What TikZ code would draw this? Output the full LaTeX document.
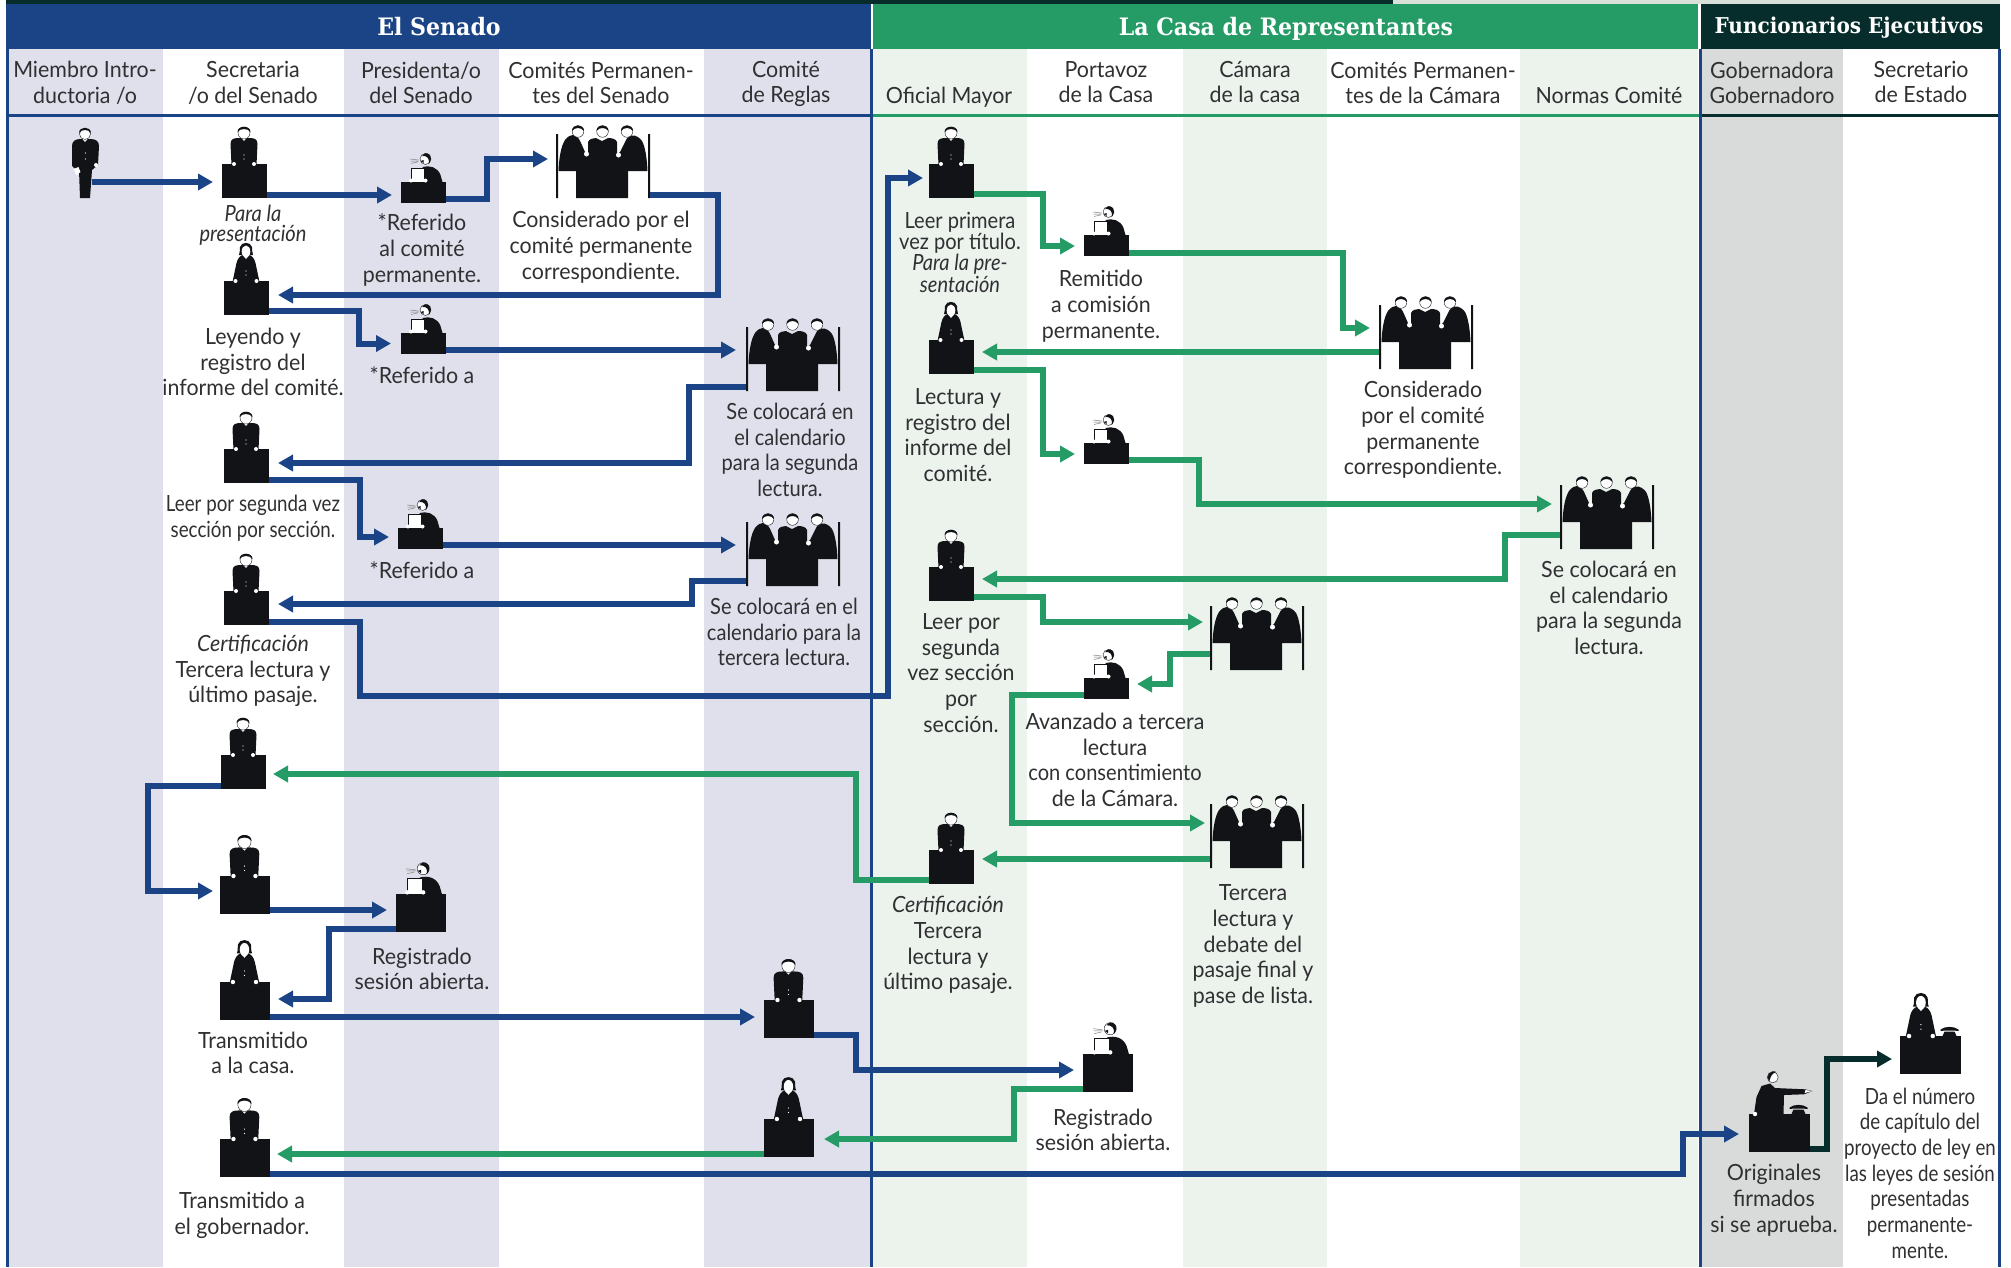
\documentclass[tikz,border=0pt]{standalone}
\usepackage{fontspec}
\setmainfont[FakeStretch=0.96]{Lato}
\newfontfamily\titlefont[FakeStretch=0.92]{DejaVu Serif}
\newfontfamily\tightfont[FakeStretch=0.9]{Lato}
\newfontfamily\narrowfont[FakeStretch=0.84]{Lato}
\usetikzlibrary{arrows.meta}
\definecolor{senblue}{HTML}{1B4486}
\definecolor{hougreen}{HTML}{259B66}
\definecolor{exedark}{HTML}{062D2B}
\definecolor{senband}{HTML}{E0E0EC}
\definecolor{houband}{HTML}{ECF3ED}
\definecolor{exeband}{HTML}{D9DBDA}
\definecolor{figblack}{HTML}{111317}
\definecolor{txtgray}{HTML}{303033}
\tikzset{
	lbl/.style={align=center,text=txtgray,inner sep=0pt,font=\fontsize{22.3}{25.7}\selectfont},
	tight/.style={font=\tightfont\fontsize{22.3}{25.7}\selectfont},
	narrow/.style={font=\narrowfont\fontsize{22.3}{25.7}\selectfont},
	title/.style={text=white,inner sep=0pt,anchor=base,font=\titlefont\bfseries\fontsize{24}{28}\selectfont},
	flow/.style={line width=6pt,shorten >=9pt,-{Triangle[length=15pt,width=16pt]}},
	senflow/.style={flow,senblue},
	houflow/.style={flow,hougreen},
	exeflow/.style={flow,exedark},
	deskbox/.style={fill=figblack,inner sep=0pt,outer sep=0pt,anchor=north west},
	desktall/.style={deskbox,minimum width=45pt,minimum height=34pt},
	desklow/.style={deskbox,minimum width=45pt,minimum height=21pt},
	deskbig/.style={deskbox,minimum width=50pt,minimum height=38pt},
	deskwide/.style={deskbox,minimum width=61pt,minimum height=38pt},
	panelbox/.style={inner sep=0pt,outer sep=0pt,anchor=north west,minimum width=94pt,minimum height=64pt},
	pics/man/.style={code={
		\fill[figblack] (-13,1) -- (-14,-20) .. controls (-14,-25) and (-11,-26) .. (-5,-26) -- (4,-26) .. controls (10,-26) and (13,-25) .. (13,-20) -- (12,1) -- cycle;
		\fill[white] (-10.5,0) circle (2) (9.5,0) circle (2) (-.5,-9) circle (.6) (-.5,-5) circle (.6);
		\fill[white] (-3,-26) -- (2,-26) -- (-.5,-23) -- cycle;
		\draw[figblack,line width=.4pt,fill=white] (-.5,-31) circle (6);
		\fill[figblack] (-7,-32) .. controls (-7,-39) and (6,-39) .. (6,-32) .. controls (3,-36) and (-4,-36) .. (-7,-32) -- cycle;
	}},
	pics/woman/.style={code={
		\fill[figblack] (-14,1) -- (-10,-18) .. controls (-9,-22) and (-7,-25) .. (-4,-26) -- (3,-26) .. controls (6,-25) and (8,-22) .. (9,-18) -- (13,1) -- cycle;
		\fill[white] (-11,0) circle (2) (10,0) circle (2) (-.5,-10) circle (.6) (-.5,-6) circle (.6);
		\fill[figblack] (-7.5,-26) .. controls (-6,-29) and (-7,-32) .. (-6.5,-34) .. controls (-5,-39.5) and (4,-39.5) .. (5.5,-34) .. controls (6,-32) and (5,-29) .. (6.5,-26) -- cycle;
		\fill[white] (-.5,-29.5) ellipse (4.3 and 6);
		\fill[white] (-3,-25) -- (2,-25) -- (-.5,-22) -- cycle;
	}},
	pics/reader/.style={code={
		\fill[figblack] (-1,-15) .. controls (6,-17) and (14,-15) .. (17,-7) -- (19,0) -- (-1,0) -- cycle;
		\draw[figblack,line width=.4pt,fill=white] (-12.5,0) -- (-12.5,-14) -- (1,-14) -- (1,0);
		\fill[white] (-12.5,-1.5) circle (2) (2,-1.5) circle (2);
		\draw[figblack,line width=.4pt,fill=white] (2,-23) circle (5.5);
		\fill[figblack] (-1.5,-26) .. controls (1,-31) and (8,-29) .. (7.5,-23) .. controls (7,-20) and (5.5,-18) .. (5,-18) .. controls (7,-23) and (3,-27) .. (-1.5,-26) -- cycle;
		\fill[figblack] (-3,-21) -- (0,-22) -- (0,-19) -- cycle;
		\draw[gray,line width=.5pt] (-13.5,-23) -- (-5,-22) (-13,-21) -- (-5,-21) (-12.5,-18.5) -- (-6,-20);
	}},
	pics/panel/.style={code={
		\fill[figblack] (0,0) rectangle (2,64) (92,0) rectangle (94,64) (20,37) rectangle (72,64);
		\fill[figblack] (2.5,37) .. controls (3,24) and (5,12) .. (9,6) .. controls (12,2) and (15,1) .. (17,1) .. controls (21,1) and (24,6) .. (25,9) -- (29,18) -- (32,20) -- (32,8) .. controls (33,5) and (37,4) .. (40,4) -- (46,7) -- (52,4) .. controls (56,4) and (60,5) .. (61,8) -- (61,20) -- (64,18) -- (69,8) .. controls (71,3) and (74,1.5) .. (76,1.5) .. controls (80,1) and (84,4) .. (86,7) .. controls (89,12) and (91,24) .. (91.5,37) -- cycle;
		\fill[white] (30.5,20) circle (2.5) (62.5,21) circle (2.5);
		\foreach \hx in {22,46.5,71} {
			\draw[figblack,line width=.4pt,fill=white] (\hx,-2.5) circle (5.8);
			\fill[figblack] (\hx-6,-3) .. controls (\hx-6,-10.5) and (\hx+6,-10.5) .. (\hx+6,-3) .. controls (\hx+3,-7) and (\hx-3,-7) .. (\hx-6,-3) -- cycle;
		}
	}},
	pics/member/.style={code={
		\fill[figblack] (-5.5,0) -- (-6.5,-28) -- (-9,-28) -- (-13.5,-32) -- (-13.5,-52) .. controls (-13.5,-57) and (-10,-59) .. (-5,-59) -- (5,-59) .. controls (10,-59) and (13.5,-57) .. (13.5,-52) -- (12.5,-33) -- (6.5,-28) -- (4.5,0) -- cycle;
		\fill[white] (-12,-29) -- (-7,-31) -- (-5,-26) -- (-9,-23) -- cycle;
		\fill[white] (10.5,-33) circle (2) (0,-45) circle (.6) (0,-39) circle (.6) (-3,-59) -- (2,-59) -- (-.5,-56) -- cycle;
		\draw[figblack,line width=.4pt,fill=white] (-.5,-64) circle (5.5);
		\fill[figblack] (-6.5,-65) .. controls (-6.5,-72) and (5.5,-72) .. (5.5,-65) .. controls (3,-69) and (-4,-69) .. (-6.5,-65) -- cycle;
	}},
	pics/pointer/.style={code={
		\fill[figblack] (-25.5,0) -- (-23,-17) -- (-18,-28) -- (-9.5,-30.5) -- (-4.5,-26) -- (25.5,-24.7) -- (33,-23) -- (24.5,-19.7) -- (4.5,-19) -- (4,0) -- cycle;
		\fill[white] (-24.5,0) circle (2.2);
		\fill[white] (26,-24) -- (33,-23) -- (25,-21) -- cycle;
		\draw[figblack,line width=.4pt,fill=white] (-6.8,-36.7) circle (5.5);
		\fill[figblack] (-10,-33) .. controls (-15,-38) and (-9,-45) .. (-3,-42) .. controls (-7,-41) and (-9,-38) .. (-10,-33) -- cycle;
	}},
	pics/phone/.style={code={
		\fill[figblack] (-9,-6.5) .. controls (-5,-10) and (5,-10) .. (9,-6.5) -- (9,-5) -- (4,-5.5) -- (-4,-5.5) -- (-9,-5) -- cycle;
		\fill[figblack] (-5,-4.5) -- (5,-4.5) -- (7,0) -- (-7,0) -- cycle;
	}},
}
\begin{document}
\begin{tikzpicture}[x=1pt,y=-1pt]
	\useasboundingbox (0,0) rectangle (2011,1267);
	% column bands
	\foreach \xa/\xb in {8/163,344/499,704/871}
	\fill[senband] (\xa,49) rectangle (\xb,1267);
	\foreach \xa/\xb in {873/1027,1183/1327,1520/1698}
	\fill[houband] (\xa,49) rectangle (\xb,1267);
	\fill[exeband] (1701,49) rectangle (1843,1267);
	% header bars
	\fill[exedark] (6,0) rectangle (1393,4);
	\fill[black!8!houband] (1393,0) rectangle (2000,4);
	\fill[senblue] (6,4) rectangle (871,49);
	\fill[hougreen] (873,4) rectangle (1698,49);
	\fill[exedark] (1701,4) rectangle (2000,49);
	\node[title] (senhead) at (439,35) {El Senado};
	\node[title] (houhead) at (1286,35) {La Casa de Representantes};
	\node[title,font=\titlefont\bfseries\fontsize{21.8}{26}\selectfont] (exehead) at (1849,33.5) {Funcionarios Ejecutivos};
	\fill[senblue] (6,113.5) rectangle (872,116.5);
	\fill[hougreen] (872,113.5) rectangle (1700,116.5);
	\fill[exedark] (1700,113.5) rectangle (2000,116.5);
	\foreach \xa in {6,870,1699,1998}
	\fill[senblue] (\xa,49) rectangle (\xa+2.5,1267);
	% column heads
	\node[lbl] (colmiem) at (85,83) {Miembro Intro-\\ductoria /o};
	\node[lbl] (colsec) at (253,83) {Secretaria\\/o del Senado};
	\node[lbl] (colpres) at (421,83) {Presidenta/o\\del Senado};
	\node[lbl] (colcom) at (601,83) {Comités Permanen-\\tes del Senado};
	\node[lbl] (colreg) at (786,84) {Comité\\de Reglas};
	\node[lbl] (coloft) at (949,97) {Oficial Mayor};
	\node[lbl] (colport) at (1106,82) {Portavoz\\de la Casa};
	\node[lbl] (colcam) at (1255,82) {Cámara\\de la casa};
	\node[lbl] (colcomh) at (1423,83) {Comités Permanen-\\tes de la Cámara};
	\node[lbl] (colnor) at (1609,95) {Normas Comité};
	\node[lbl] (colgob) at (1772,83) {Gobernadora\\Gobernadoro};
	\node[lbl] (colest) at (1921,82) {Secretario\\de Estado};
	% figures
	\node[panelbox,minimum width=27pt,minimum height=70pt] (member) at (72,128) {};
	\pic at (member.south) {member};
	\foreach \nm/\x/\y/\who in {sec1/222/164/man,sec2/224/281/woman,sec3/224/449/man,sec4/224/591/man,sec5/221/755/man,hou1/929/164/man,hou2/929/340/woman,hou3/929/567/man,hou4/929/850/man}{
		\node[desktall] (\nm) at (\x,\y) {};
		\pic at (\nm.north) {\who};
	}
	\foreach \nm/\x/\y/\who in {sec6/220/876/man,sec7/220/982/woman,sec8/220/1139/man,rul1/764/1000/man,rul2/764/1119/woman}{
		\node[deskbig] (\nm) at (\x,\y) {};
		\pic[scale=1.1] at (\nm.north) {\who};
	}
	\foreach \nm/\x/\y in {rea1/401/182,rea2/401/333,rea3/398/528,spk1/1084/235,spk2/1084/443,spk3/1084/678}{
		\node[desklow] (\nm) at (\x,\y) {};
		\pic at (\nm.north) {reader};
	}
	\foreach \nm/\x/\y in {rea4/396/894,spk4/1083/1054}{
		\node[deskbig] (\nm) at (\x,\y) {};
		\pic[scale=1.1] at (\nm.north) {reader};
	}
	\foreach \nm/\x/\y in {com1/556/134,com2/746/327,com3/746/522,cmh1/1379/305,cmh2/1560/485,cmh3/1210/606,cmh4/1210/804}{
		\node[panelbox] (\nm) at (\x,\y) {};
		\pic at (\nm.north west) {panel};
	}
	\node[deskwide] (gov) at (1749,1114) {};
	\pic at (gov.north) {pointer};
	\pic[xshift=19pt] at (gov.north) {phone};
	\node[deskwide] (sos) at (1900,1036) {};
	\pic[scale=1.13,xshift=-8pt] at (sos.north) {woman};
	\pic[xshift=19pt] at (sos.north) {phone};
	% senate
	\draw[senflow] ([xshift=-7pt,yshift=-19pt]member.east) -- ([yshift=-1pt]sec1.west);
	\draw[senflow] ([yshift=3pt]sec1.south east) -- ([yshift=-2.5pt]rea1.west);
	\draw[senflow,shorten >=8pt] ([yshift=4pt]rea1.south east) -- ++(41,0) |- ([yshift=7pt]com1.west);
	\draw[senflow] ([yshift=3pt]com1.south east) -- ++(68,0) |- ([yshift=3pt]sec2.east);
	\draw[senflow,shorten >=10pt] ([yshift=4pt]sec2.south east) -- ++(90,0) |- (rea2.west);
	\draw[senflow,shorten >=10pt] ([yshift=4pt]rea2.south east) -- ([yshift=9pt]com2.west);
	\draw[senflow] ([yshift=4pt]com2.south west) -- ++(-57,0) |- ([yshift=3pt]sec3.east);
	\draw[senflow] ([yshift=3pt]sec3.south east) -- ++(91,0) |- ([yshift=1.5pt]rea3.west);
	\draw[senflow,shorten >=10pt] ([yshift=4pt]rea3.south east) -- ([yshift=9pt]com3.west);
	\draw[senflow] ([yshift=5pt]com3.south west) -- ++(-54,0) |- ([yshift=4pt]sec4.east);
	\draw[senflow,shorten >=6pt] ([yshift=3pt]sec4.south east) -- ++(91,0) -- ++(0,74) -- ++(528,0) |- ([yshift=3pt]hou1.west);
	% house
	\draw[houflow] ([yshift=4pt]hou1.south east) -- ++(69,0) |- ([yshift=-.5pt]spk1.west);
	\draw[houflow] ([yshift=3pt]spk1.south east) -- ++(214,0) |- ([yshift=9pt]cmh1.west);
	\draw[houflow,shorten >=8pt] ([yshift=17pt]cmh1.south west) -- ([yshift=5pt]hou2.east);
	\draw[houflow] ([yshift=4pt]hou2.south east) -- ++(69,0) |- ([yshift=-.5pt]spk2.west);
	\draw[houflow,shorten >=8pt] ([yshift=4pt]spk2.south east) -- ++(70,0) |- ([yshift=13pt]cmh2.west);
	\draw[houflow,shorten >=8pt] ([yshift=14pt]cmh2.south west) -- ++(-55,0) |- ([yshift=5pt]hou3.east);
	\draw[houflow,shorten >=7pt] ([yshift=4pt]hou3.south east) -- ++(69,0) |- ([yshift=16pt]cmh3.west);
	\draw[houflow,shorten >=8pt] ([yshift=16pt]cmh3.south west) -- ++(-40,0) |- ([yshift=4.5pt]spk3.east);
	\draw[houflow,shorten >=5pt] ([yshift=4pt]spk3.south west) -- ++(-72,0) |- ([yshift=13pt]cmh4.west);
	\draw[houflow,shorten >=8pt] ([yshift=9pt]cmh4.south west) -- ([yshift=8pt]hou4.east);
	\draw[houflow,shorten >=7pt] ([yshift=4pt]hou4.south west) -- ++(-73,0) |- ([yshift=-2pt]sec5.east);
	% back and forth
	\draw[senflow,shorten >=7pt] ([yshift=3pt]sec5.south west) -- ++(-73,0) |- ([yshift=4pt]sec6.west);
	\draw[senflow] ([yshift=4pt]sec6.south east) -- ([yshift=3pt]rea4.west);
	\draw[senflow,shorten >=8pt] ([yshift=3pt]rea4.south west) -- ++(-67,0) |- ([yshift=2pt]sec7.east);
	\draw[senflow] ([yshift=3pt]sec7.south east) -- ([yshift=2pt]rul1.west);
	\draw[senflow] ([yshift=3pt]rul1.south east) -- ++(42,0) |- ([yshift=3pt]spk4.west);
	\draw[houflow,shorten >=10pt] ([yshift=3pt]spk4.south west) -- ++(-69,0) |- ([yshift=-1pt]rul2.east);
	\draw[houflow,shorten >=7pt] ([yshift=3pt]rul2.south west) -- ([yshift=4pt]sec8.east);
	\draw[senflow,shorten >=10pt] ([yshift=3pt]sec8.south east) -- ++(1413,0) |- ([yshift=-1pt]gov.west);
	\draw[exeflow,shorten >=8pt] ([yshift=3pt]gov.south east) -- ++(17,0) |- ([yshift=-4pt]sos.west);
	% labels
	\node[lbl,font=\tightfont\itshape\fontsize{22.3}{19.5}\selectfont] (txtpara) at (253,225) {Para la\\presentación};
	\node[lbl] (txtref) at (422,250) {*Referido\\al comité\\permanente.};
	\node[lbl] (txtcons) at (601,247) {Considerado por el\\comité permanente\\correspondiente.};
	\node[lbl] (txtley) at (253,362) {Leyendo y\\registro del\\informe del comité.};
	\node[lbl] (txtref2) at (422,375) {*Referido a};
	\node[lbl,tight] (txtcal) at (790,450) {Se colocará en\\el calendario\\para la segunda\\lectura.};
	\node[lbl,narrow] (txtseg) at (253,518) {Leer por segunda vez\\sección por sección.};
	\node[lbl] (txtref3) at (422,570) {*Referido a};
	\node[lbl,tight] (txtcal2) at (784,632) {Se colocará en el\\calendario para la\\tercera lectura.};
	\node[lbl] (txtcert) at (253,671) {\textit{Certificación}\\Tercera lectura y\\último pasaje.};
	\node[lbl] (txtreg) at (422,969) {Registrado\\sesión abierta.};
	\node[lbl] (txttran) at (253,1053) {Transmitido\\a la casa.};
	\node[lbl] (txttran2) at (242,1215) {Transmitido a\\el gobernador.};
	\node[lbl,font=\tightfont\fontsize{22.3}{21.3}\selectfont] (txtprim) at (960,252) {Leer primera\\vez por título.\\\textit{Para la pre-}\\\textit{sentación}};
	\node[lbl] (txtrem) at (1101,306) {Remitido\\a comisión\\permanente.};
	\node[lbl] (txtlec) at (958,435) {Lectura y\\registro del\\informe del\\comité.};
	\node[lbl] (txtconh) at (1423,430) {Considerado\\por el comité\\permanente\\correspondiente.};
	\node[lbl] (txtcalh) at (1609,608) {Se colocará en\\el calendario\\para la segunda\\lectura.};
	\node[lbl] (txtsegh) at (961,673) {Leer por\\segunda\\vez sección\\por\\sección.};
	\node[lbl] (txtavan) at (1115,760) {Avanzado a tercera\\lectura\\{\tightfont con consentimiento}\\de la Cámara.};
	\node[lbl] (txtcerh) at (948,945) {\textit{Certificación}\\Tercera\\lectura y\\último pasaje.};
	\node[lbl] (txtter) at (1253,946) {Tercera\\lectura y\\debate del\\pasaje final y\\pase de lista.};
	\node[lbl] (txtregh) at (1103,1130) {Registrado\\sesión abierta.};
	\node[lbl] (txtorig) at (1774,1200) {Originales\\firmados\\si se aprueba.};
	\node[lbl,narrow] (txtnum) at (1920,1173) {Da el número\\de capítulo del\\proyecto de ley en\\las leyes de sesión\\presentadas\\permanente-\\mente.};
\end{tikzpicture}
\end{document}
